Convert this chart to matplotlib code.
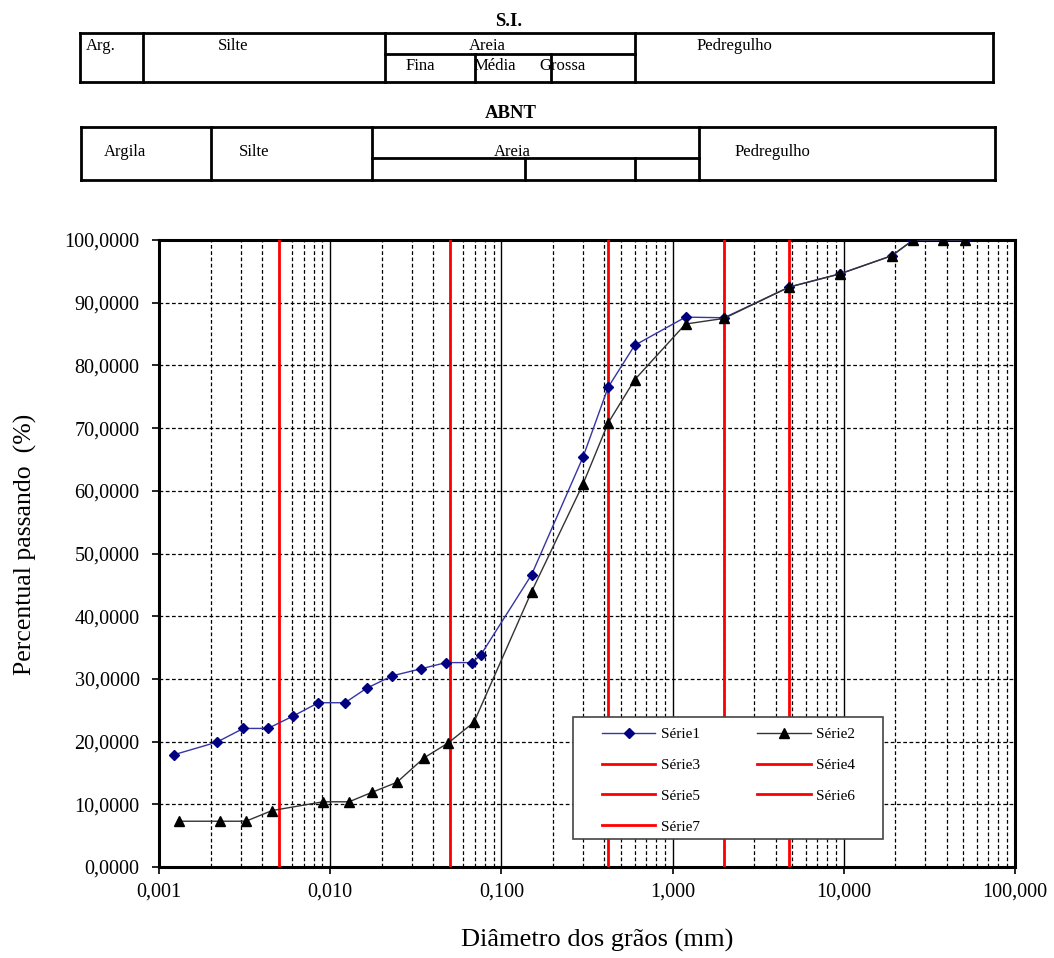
import matplotlib
matplotlib.use("Agg")
import matplotlib.pyplot as plt
from matplotlib.ticker import FixedLocator, FuncFormatter, LogLocator, NullFormatter
from matplotlib.lines import Line2D
from matplotlib.patches import Rectangle
import numpy as np

plt.rcParams['font.family'] = ['Liberation Serif', 'DejaVu Serif']

# ---------------- data ----------------
serie1_d = [0.00122, 0.00217, 0.00311, 0.00433, 0.0061, 0.00853, 0.0122, 0.0163,
            0.0231, 0.0338, 0.0475, 0.0673, 0.0757, 0.15, 0.30, 0.42, 0.60, 1.19,
            2.0, 4.8, 9.5, 19.1, 25.4, 38.1, 50.8]
serie1_p = [17.9, 19.9, 22.1, 22.1, 24.1, 26.2, 26.2, 28.5, 30.5, 31.6, 32.6, 32.6,
            33.8, 46.6, 65.4, 76.5, 83.2, 87.7, 87.6, 92.5, 94.6, 97.5, 100.0, 100.0, 100.0]

serie2_d = [0.0013, 0.00228, 0.00322, 0.00457, 0.00908, 0.0129, 0.0175, 0.0245,
            0.0353, 0.049, 0.0692, 0.15, 0.30, 0.42, 0.60, 1.19, 2.0, 4.8, 9.5,
            19.1, 25.4, 38.1, 50.8]
serie2_p = [7.3, 7.3, 7.3, 9.0, 10.4, 10.4, 11.9, 13.5, 17.4, 19.8, 23.1, 43.9,
            61.1, 70.8, 77.7, 86.6, 87.5, 92.5, 94.6, 97.5, 100.0, 100.0, 100.0]

limits_d = [0.005, 0.05, 0.42, 2.0, 4.8]          # Série3 .. Série7
limits_names = ['Série3', 'Série4', 'Série5', 'Série6', 'Série7']

y_ticks = [0, 10, 20, 30, 40, 50, 60, 70, 80, 90, 100]
x_ticks = [0.001, 0.01, 0.1, 1, 10, 100]

si_labels = ['Arg.', 'Silte', 'Areia', 'Pedregulho', 'Fina', 'Média', 'Grossa']
abnt_labels = ['Argila', 'Silte', 'Areia', 'Pedregulho']

# ---------------- figure ----------------
W, H = 1054, 958
fig = plt.figure(figsize=(W / 100, H / 100), dpi=100)

def fx(x):
    return x / W

def fy(y):
    return 1 - y / H

AX_L, AX_R, AX_T, AX_B = 159, 1015, 240, 867
ax = fig.add_axes([fx(AX_L), fy(AX_B), fx(AX_R) - fx(AX_L), fy(AX_T) - fy(AX_B)])
ax.set_xscale('log')
ax.set_xlim(0.001, 100)
ax.set_ylim(0, 100)

def axx(px):
    return (px - AX_L) / (AX_R - AX_L)

def axy(py):
    return (AX_B - py) / (AX_B - AX_T)

# grid
ax.xaxis.set_major_locator(FixedLocator(x_ticks))
ax.xaxis.set_minor_locator(LogLocator(base=10, subs=np.arange(2, 10), numticks=20))
ax.xaxis.set_minor_formatter(NullFormatter())
ax.yaxis.set_major_locator(FixedLocator(y_ticks))
ax.grid(True, which='major', axis='x', color='black', lw=1.0, ls='-')
ax.grid(True, which='minor', axis='x', color='black', lw=0.9, ls=(0, (3, 2)))
ax.grid(True, which='major', axis='y', color='black', lw=0.9, ls=(0, (3, 2)))
ax.set_axisbelow(True)

def xfmt(v, pos):
    return ('%.3f' % v).replace('.', ',')

def yfmt(v, pos):
    return ('%.4f' % v).replace('.', ',')

ax.xaxis.set_major_formatter(FuncFormatter(xfmt))
ax.yaxis.set_major_formatter(FuncFormatter(yfmt))
ax.tick_params(axis='both', which='major', direction='out', length=5, width=1.2,
               labelsize=14.5, colors='black')
ax.tick_params(axis='x', which='major', pad=6)
ax.tick_params(axis='y', which='major', pad=9)
ax.tick_params(axis='x', which='minor', length=0)
for s in ax.spines.values():
    s.set_linewidth(2.2)
    s.set_color('black')

# red limit lines
red_handles = []
for d, name in zip(limits_d, limits_names):
    h = ax.axvline(d, color='#ff0000', lw=2.0, zorder=3, label=name)
    red_handles.append(h)

# series
h1, = ax.plot(serie1_d, serie1_p, color='#3535a5', lw=1.0, marker='D', ms=5.5,
              mfc='#000080', mec='#000080', zorder=4, label='Série1')
h2, = ax.plot(serie2_d, serie2_p, color='#333333', lw=1.0, marker='^', ms=7.5,
              mfc='black', mec='black', zorder=5, label='Série2')

# axis titles
fig.text(fx(597), fy(940), 'Diâmetro dos grãos (mm)', fontsize=19, ha='center', va='center')
fig.text(fx(25), fy(544), 'Percentual passando  (%)', fontsize=18.5, ha='center',
         va='center', rotation=90)

# legend frame + legend
ax.add_patch(Rectangle((axx(573), axy(839)), axx(883) - axx(573), axy(716.7) - axy(839),
                       transform=ax.transAxes, facecolor='white', edgecolor='#444444',
                       lw=1.2, zorder=9, clip_on=False))
handles = [h1, red_handles[0], red_handles[2], red_handles[4],
           h2, red_handles[1], red_handles[3]]
labels = [h.get_label() for h in handles]
leg = ax.legend(handles, labels, ncol=2, loc='upper left',
                bbox_to_anchor=(axx(602), axy(727.5)),
                borderaxespad=0, borderpad=0, frameon=False, fontsize=11,
                handlelength=3.5, handletextpad=0.35, labelspacing=1.12,
                columnspacing=3.75)
leg.set_zorder(10)

# ---------------- classification tables ----------------
def hline(x0, x1, y, lw=2.0):
    fig.add_artist(Line2D([fx(x0), fx(x1)], [fy(y), fy(y)], color='black', lw=lw,
                          transform=fig.transFigure, solid_capstyle='projecting'))

def vline(x, y0, y1, lw=2.0):
    fig.add_artist(Line2D([fx(x), fx(x)], [fy(y0), fy(y1)], color='black', lw=lw,
                          transform=fig.transFigure, solid_capstyle='projecting'))

def txt(x, y, s, size=12, weight='normal'):
    fig.text(fx(x), fy(y), s, ha='center', va='center', fontsize=size, fontweight=weight)

# S.I. table
fig.text(fx(509), fy(22), 'S.I.', ha='center', va='center', fontsize=13.5, fontweight='bold')
hline(80, 993, 32.5); hline(80, 993, 81.5)
vline(80, 32.5, 81.5); vline(993, 32.5, 81.5)
vline(143, 32.5, 81.5); vline(385, 32.5, 81.5); vline(635, 32.5, 81.5)
hline(385, 635, 54)
vline(474.5, 54, 81.5); vline(550.5, 54, 81.5)
txt(101, 46, si_labels[0])
txt(233, 46, si_labels[1])
txt(487, 46, si_labels[2])
txt(734, 46, si_labels[3])
txt(420, 66, si_labels[4])
txt(495, 66, si_labels[5])
txt(562, 66, si_labels[6])

# ABNT table
fig.text(fx(511), fy(114), 'ABNT', ha='center', va='center', fontsize=13.5, fontweight='bold')
hline(81, 995, 127); hline(81, 995, 179.5)
vline(81, 127, 179.5); vline(995, 127, 179.5)
vline(211, 127, 179.5); vline(372, 127, 179.5); vline(699, 127, 179.5)
hline(372, 699, 157.5)
vline(525, 157.5, 179.5); vline(635, 157.5, 179.5)
txt(125, 152, abnt_labels[0])
txt(254, 152, abnt_labels[1])
txt(512, 151.5, abnt_labels[2])
txt(772, 152, abnt_labels[3])

fig.savefig('out.png', dpi=100)
